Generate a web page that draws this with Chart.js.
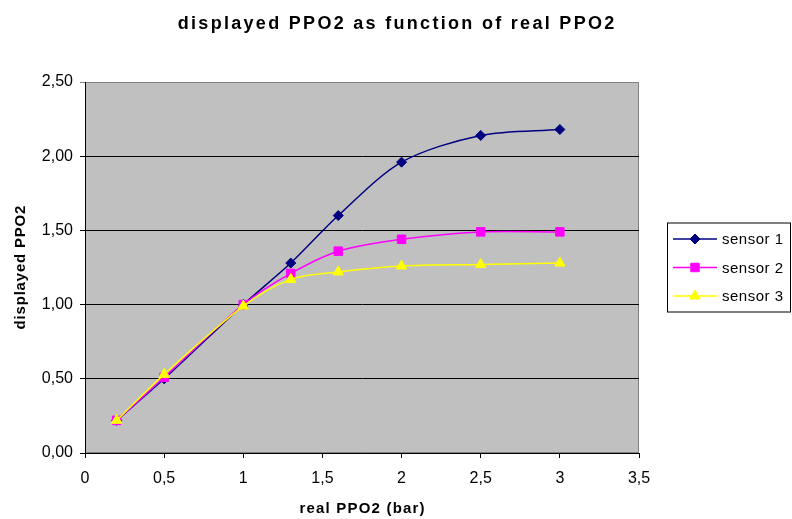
<!DOCTYPE html>
<html lang="en">
<head>
<meta charset="UTF-8">
<title>displayed PPO2 as function of real PPO2</title>
<script src="https://cdn.jsdelivr.net/npm/chart.js@4"></script>
<style>
  body { margin: 0; background: #ffffff; }
  #wrap { width: 792px; height: 519px; }
</style>
</head>
<body>
<div id="wrap"><canvas id="ppo2" width="792" height="519"></canvas></div>
<script>
// values
const realPPO2 = [0.2, 0.5, 1, 1.3, 1.6, 2, 2.5, 3];
const sensor1 = [0.22, 0.50, 1.00, 1.28, 1.60, 1.96, 2.14, 2.18];
const sensor2 = [0.22, 0.51, 1.00, 1.21, 1.36, 1.44, 1.49, 1.49];
const sensor3 = [0.22, 0.53, 0.99, 1.17, 1.22, 1.26, 1.27, 1.28];
const seriesNames = ['sensor 1', 'sensor 2', 'sensor 3'];
const xTickLabels = ['0', '0,5', '1', '1,5', '2', '2,5', '3', '3,5'];
const yTickLabels = ['0,00', '0,50', '1,00', '1,50', '2,00', '2,50'];

const FONT = '"Liberation Sans", Arial, sans-serif';

const styles = [
  { color: '#000080', pointStyle: 'rectRot', radius: 5 },
  { color: '#ff00ff', pointStyle: 'rect', radius: 6 },
  { color: '#ffff00', pointStyle: 'triangle', radius: 6 }
];

function toPoints(ys) {
  return realPPO2.map((x, i) => ({ x: x, y: ys[i] }));
}

const datasets = [sensor1, sensor2, sensor3].map((ys, i) => ({
  label: seriesNames[i],
  data: toPoints(ys),
  borderColor: styles[i].color,
  backgroundColor: styles[i].color,
  pointBackgroundColor: styles[i].color,
  pointBorderColor: styles[i].color,
  pointStyle: styles[i].pointStyle,
  pointRadius: styles[i].radius,
  pointBorderWidth: 1,
  borderWidth: 1.5,
  tension: 0.3,
  fill: false,
  order: 2 - i   // sensor 3 on top, like the original
}));

// grey plot area with a grey frame
const plotFrame = {
  id: 'plotFrame',
  beforeDraw(chart) {
    const { ctx, chartArea: a } = chart;
    ctx.save();
    ctx.fillStyle = '#c0c0c0';
    ctx.fillRect(a.left, a.top, a.width, a.height);
    ctx.strokeStyle = '#808080';
    ctx.lineWidth = 1;
    ctx.strokeRect(a.left + 0.5, a.top + 0.5, a.width - 1, a.height - 1);
    ctx.restore();
  }
};

function spacedText(ctx, text, x, y, font, spacing, rotate) {
  ctx.save();
  ctx.translate(x, y);
  if (rotate) ctx.rotate(-Math.PI / 2);
  ctx.font = font;
  ctx.letterSpacing = spacing + 'px';
  ctx.fillStyle = '#000';
  ctx.textAlign = 'center';
  ctx.textBaseline = 'middle';
  ctx.fillText(text, spacing / 2, 0);
  ctx.restore();
}

// titles (the original has wide letter spacing)
const titles = {
  id: 'titles',
  afterDraw(chart) {
    const { ctx, chartArea: a } = chart;
    spacedText(ctx, 'displayed PPO2 as function of real PPO2', chart.width / 2, 24, 'bold 18px ' + FONT, 2.3);
    spacedText(ctx, 'real PPO2 (bar)', (a.left + a.right) / 2, 509, 'bold 15px ' + FONT, 1.2);
    spacedText(ctx, 'displayed PPO2', 21, (a.top + a.bottom) / 2, 'bold 15px ' + FONT, 0.8, true);
  }
};

// boxed legend on the right
const boxLegend = {
  id: 'boxLegend',
  afterDraw(chart) {
    const { ctx, chartArea: a } = chart;
    const cy = (a.top + a.bottom) / 2;
    const left = a.right + 28, right = chart.width - 1;
    const top = cy - 45, bottom = cy + 45;
    ctx.save();
    ctx.fillStyle = '#ffffff';
    ctx.fillRect(left, top, right - left, bottom - top);
    ctx.strokeStyle = '#000';
    ctx.lineWidth = 1;
    ctx.strokeRect(left + 0.5, top + 0.5, right - left - 1, bottom - top - 1);
    chart.data.datasets.forEach((ds, i) => {
      const y = cy + (i - 1) * 28.5;
      ctx.strokeStyle = ds.borderColor;
      ctx.lineWidth = 1.5;
      ctx.beginPath();
      ctx.moveTo(left + 6, y);
      ctx.lineTo(left + 50, y);
      ctx.stroke();
      ctx.fillStyle = ds.pointBackgroundColor;
      ctx.strokeStyle = ds.pointBorderColor;
      ctx.lineWidth = 1;
      if (Chart.helpers && Chart.helpers.drawPoint) {
        Chart.helpers.drawPoint(ctx, {
          pointStyle: ds.pointStyle, radius: ds.pointRadius, rotation: 0, borderWidth: 1
        }, left + 28, y);
      }
      ctx.fillStyle = '#000';
      ctx.font = '15px ' + FONT;
      ctx.letterSpacing = '0.5px';
      ctx.textAlign = 'left';
      ctx.textBaseline = 'middle';
      ctx.fillText(ds.label, left + 55, y + 1);
    });
    ctx.restore();
  }
};

new Chart(document.getElementById('ppo2'), {
  type: 'line',
  data: { datasets: datasets },
  plugins: [plotFrame, titles, boxLegend],
  options: {
    responsive: false,
    animation: false,
    devicePixelRatio: 1,
    layout: { padding: { left: 0, top: 82, right: 153, bottom: 0 } },
    plugins: {
      legend: { display: false },
      title: { display: false },
      tooltip: { enabled: false }
    },
    scales: {
      x: {
        type: 'linear',
        min: 0,
        max: 3.5,
        afterFit(scale) { scale.height = 66; },
        ticks: {
          stepSize: 0.5,
          padding: 11,
          color: '#000',
          font: { family: FONT, size: 16 },
          maxRotation: 0,
          callback: (v, i) => xTickLabels[i]
        },
        grid: { drawOnChartArea: false, drawTicks: true, tickLength: 5, color: '#000' },
        border: { display: true, color: '#000', width: 1 }
      },
      y: {
        type: 'linear',
        min: 0,
        max: 2.5,
        afterFit(scale) { scale.width = 85; },
        ticks: {
          stepSize: 0.5,
          padding: 7,
          color: '#000',
          font: { family: FONT, size: 16 },
          callback: (v, i) => yTickLabels[i]
        },
        grid: {
          drawOnChartArea: true,
          drawTicks: true,
          tickLength: 5,
          color: ctx => (ctx.tick && ctx.tick.value === 2.5 ? '#808080' : '#000')
        },
        border: { display: true, color: '#000', width: 1 }
      }
    }
  }
});
</script>
</body>
</html>
